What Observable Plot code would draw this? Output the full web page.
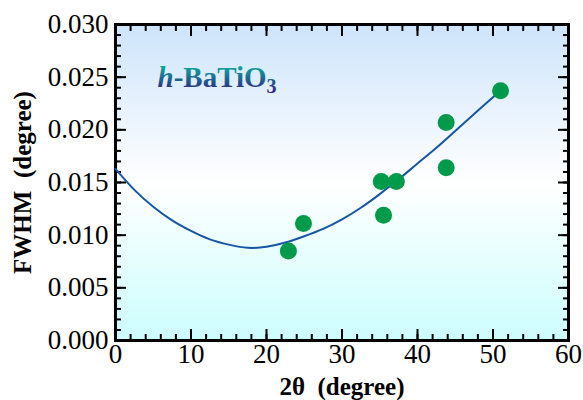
<!DOCTYPE html>
<html><head><meta charset="utf-8">
<script src="https://cdn.jsdelivr.net/npm/d3@7"></script>
<script src="https://cdn.jsdelivr.net/npm/@observablehq/plot@0.6"></script>
<style>body{margin:0;background:#fff;}</style>
</head><body><div id="chart"></div>
<script>
// measured points
const pointX = [22.9, 24.9, 35.2, 37.2, 35.5, 43.8, 43.8, 51.0];
const pointY = [0.0085, 0.0111, 0.0151, 0.0151, 0.0119, 0.0207, 0.0164, 0.0237];
// fitted curve
const curveX = [0, 2.5, 5, 7.5, 10, 12.5, 15, 17.5, 20, 22.5, 25, 27.5, 30, 32.5, 35, 37.5, 40, 42.5, 45, 47.5, 50, 51];
const curveY = [0.0163, 0.0143, 0.0127, 0.0114, 0.0104, 0.0096, 0.0091, 0.0088, 0.0089, 0.0093, 0.0099, 0.0106, 0.0115, 0.0126, 0.0139, 0.0153, 0.0168, 0.0183, 0.0199, 0.0215, 0.0231, 0.0237];
// ticks
const xTicks = [0, 10, 20, 30, 40, 50, 60];
const yTicks = [0, 0.005, 0.010, 0.015, 0.020, 0.025, 0.030];
const xMinor = d3.range(0, 61, 2);
const yMinor = d3.range(0, 31, 1).map(d => d / 1000);
const titleText = ["h-BaTiO3"];
const xLabel = ["2θ  (degree)"];
const yLabel = ["FWHM  (degree)"];

const points = pointX.map((x, i) => ({x, y: pointY[i]}));
const curve = curveX.map((x, i) => ({x, y: curveY[i]}));

const tickStyle = {text: null, label: null, strokeWidth: 2, stroke: "black"};
const serif = "'Liberation Serif', 'Times New Roman', Times, serif";

const svg = Plot.plot({
  width: 583,
  height: 400,
  marginLeft: 115,
  marginRight: 15,
  marginTop: 24,
  marginBottom: 60,
  style: {fontFamily: serif, background: "transparent", color: "black"},
  x: {domain: [0, 60]},
  y: {domain: [0, 0.030]},
  marks: [
    Plot.frame({fill: "url(#bgGrad)", stroke: "none"}),
    // minor ticks
    Plot.axisX(xMinor, {anchor: "bottom", tickSize: -6, ...tickStyle}),
    Plot.axisX(xMinor, {anchor: "top", tickSize: -6, ...tickStyle}),
    Plot.axisY(yMinor, {anchor: "left", tickSize: -6, ...tickStyle}),
    Plot.axisY(yMinor, {anchor: "right", tickSize: -6, ...tickStyle}),
    // major ticks
    Plot.axisX(xTicks, {anchor: "bottom", tickSize: -11, ...tickStyle}),
    Plot.axisX(xTicks, {anchor: "top", tickSize: -11, ...tickStyle}),
    Plot.axisY(yTicks, {anchor: "left", tickSize: -11, ...tickStyle}),
    Plot.axisY(yTicks, {anchor: "right", tickSize: -11, ...tickStyle}),
    // labels
    Plot.axisX(xTicks, {anchor: "bottom", tickSize: 0, tickPadding: 3, fontSize: 27, fontFamily: serif, label: null}),
    Plot.axisY(yTicks, {anchor: "left", tickSize: 0, tickPadding: 7, fontSize: 27, fontFamily: serif, label: null, tickFormat: d3.format(".3f")}),
    Plot.frame({stroke: "black", strokeWidth: 3}),
    Plot.line(curve, {x: "x", y: "y", stroke: "#1656a6", strokeWidth: 2, curve: "natural"}),
    Plot.dot(points, {x: "x", y: "y", r: 8.5, fill: "#009a4b", stroke: "none"}),
    Plot.text(titleText, {frameAnchor: "top-left", dx: 42, dy: 53, text: d => d, textAnchor: "start", lineAnchor: "middle", fontSize: 29, fontWeight: "bold", fontFamily: serif, fill: "url(#titleGrad)", className: "title-mark"}),
    Plot.text(xLabel, {frameAnchor: "bottom", dy: 46, text: d => d, textAnchor: "middle", fontSize: 25, fontWeight: "bold", fontFamily: serif, lineAnchor: "middle"}),
    Plot.text(yLabel, {frameAnchor: "left", dx: -93, rotate: -90, text: d => d, textAnchor: "middle", fontSize: 25, fontWeight: "bold", fontFamily: serif, lineAnchor: "middle"})
  ]
});

// gradients
const s = d3.select(svg);
const defs = s.insert("defs", ":first-child");
const bg = defs.append("linearGradient").attr("id", "bgGrad").attr("x1", 0).attr("y1", 0).attr("x2", 0).attr("y2", 1);
bg.append("stop").attr("offset", "0%").attr("stop-color", "#cde4fb");
bg.append("stop").attr("offset", "50%").attr("stop-color", "#ffffff");
bg.append("stop").attr("offset", "100%").attr("stop-color", "#ccfdfd");
const tg = defs.append("linearGradient").attr("id", "titleGrad").attr("x1", 0).attr("y1", 0).attr("x2", 0).attr("y2", 1);
tg.append("stop").attr("offset", "15%").attr("stop-color", "#0fa89b");
tg.append("stop").attr("offset", "85%").attr("stop-color", "#2b2386");

// rich title text
const t = s.select("g.title-mark text");
t.text(null);
t.append("tspan").attr("font-style", "italic").text("h");
t.append("tspan").text("-BaTiO");
t.append("tspan").attr("font-size", 20).attr("dy", 6).text("3");

document.getElementById("chart").appendChild(svg);
</script>
</body></html>
